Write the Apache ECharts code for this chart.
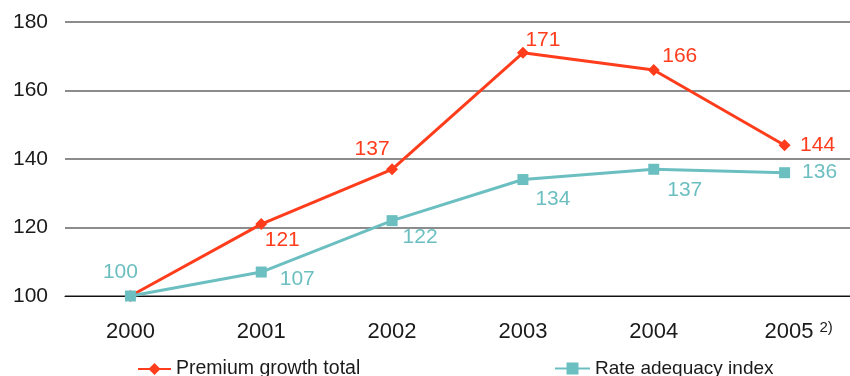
<!DOCTYPE html>
<html>
<head>
<meta charset="utf-8">
<script src="https://cdn.jsdelivr.net/npm/echarts@6/dist/echarts.min.js"></script>
<style>
  html, body { margin: 0; padding: 0; background: #fff; }
  #chart { width: 850px; height: 376px; }
</style>
</head>
<body>
<div id="chart"></div>
<script>
// Index values, 2000 = 100
const years = ['2000', '2001', '2002', '2003', '2004', '2005'];
const premiumGrowth = [100, 121, 137, 171, 166, 144];
const rateAdequacy = [100, 107, 122, 134, 137, 136];
const yTicks = [100, 120, 140, 160, 180];
const footnotedYear = '2005';
const footnoteMark = '2)';

// Label offsets (px) from each point, per series
const premiumLabelOffsets = [null, [21, 16], [-20, -20], [20, -13], [26, -14], [33, 0]];
const rateLabelOffsets = [[-10, -24], [36, 7], [28, 17], [30, 20], [31, 21], [35, 0]];

const RED = '#ff3d1c';
const TEAL = '#6cbfc1';
const TEXT = '#1a1a1a';
const FONT = '"Liberation Sans", Arial, sans-serif';

function withLabels(values, offsets, color) {
  return values.map((v, i) => ({
    value: v,
    label: offsets[i] ? {
      show: true, position: 'inside', offset: offsets[i],
      color: color, fontSize: 21, fontFamily: FONT
    } : { show: false }
  }));
}

const chart = echarts.init(document.getElementById('chart'));
chart.setOption({
  animation: false,
  backgroundColor: '#fff',
  grid: { left: 65, top: 22, width: 790, height: 274, containLabel: false },
  legend: [
    {
      data: ['Premium growth total'], left: 137, top: 359, padding: 0,
      itemWidth: 33, itemHeight: 15, itemGap: 6,
      textStyle: { color: TEXT, fontSize: 19.5, fontFamily: FONT }
    },
    {
      data: ['Rate adequacy index'], left: 554, top: 359, padding: 0,
      itemWidth: 35, itemHeight: 15, itemGap: 6,
      textStyle: { color: TEXT, fontSize: 19, fontFamily: FONT }
    }
  ],
  xAxis: {
    type: 'category', data: years, boundaryGap: true,
    axisLine: { lineStyle: { color: '#111', width: 1.2 } },
    axisTick: { show: false },
    axisLabel: {
      interval: 0,
      color: TEXT, fontSize: 22, fontFamily: FONT, margin: 24, lineHeight: 24,
      // footnote mark, balanced by a blank on the left so the year stays centred
      formatter: (v) => v === footnotedYear ? '{pad|}' + v + '{sup|' + footnoteMark + '}' : v,
      rich: {
        pad: { width: 28, lineHeight: 24 },
        sup: { fontSize: 15, fontFamily: FONT, color: TEXT, verticalAlign: 'top',
               lineHeight: 14, padding: [0, 0, 0, 6] }
      }
    }
  },
  yAxis: {
    type: 'value', min: yTicks[0], max: yTicks[yTicks.length - 1], interval: 20,
    axisLine: { show: false }, axisTick: { show: false },
    splitLine: { lineStyle: { color: '#666', width: 1.6 } },
    axisLabel: { color: TEXT, fontSize: 21, fontFamily: FONT, margin: 17 }
  },
  series: [
    {
      name: 'Premium growth total', type: 'line', z: 3,
      data: withLabels(premiumGrowth, premiumLabelOffsets, RED),
      symbol: 'diamond', symbolSize: 12,
      lineStyle: { color: RED, width: 3 },
      itemStyle: { color: RED }
    },
    {
      name: 'Rate adequacy index', type: 'line', z: 4,
      data: withLabels(rateAdequacy, rateLabelOffsets, TEAL),
      symbol: 'rect', symbolSize: 11,
      lineStyle: { color: TEAL, width: 3 },
      itemStyle: { color: TEAL }
    }
  ]
});
</script>
</body>
</html>
